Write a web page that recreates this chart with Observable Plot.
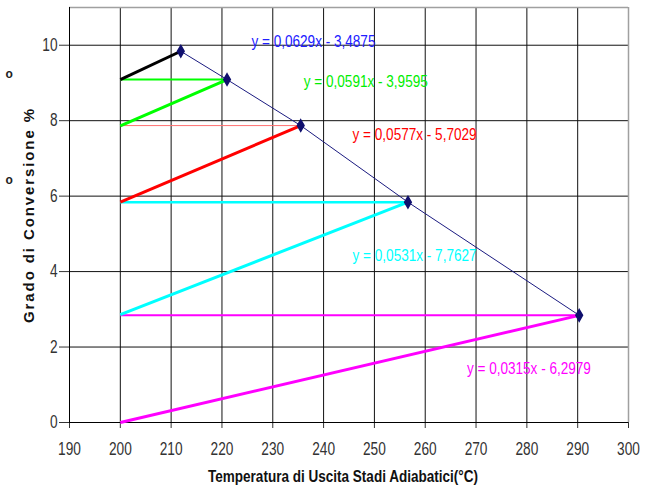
<!DOCTYPE html>
<html>
<head>
<meta charset="utf-8">
<script src="https://cdn.jsdelivr.net/npm/d3@7"></script>
<script src="https://cdn.jsdelivr.net/npm/@observablehq/plot@0.6"></script>
<style>
  html, body { margin: 0; padding: 0; background: #fff; }
  #chart svg { display: block; }
</style>
</head>
<body>
<div id="chart"></div>
<script>
// ---- data ----
const xTicks = [190, 200, 210, 220, 230, 240, 250, 260, 270, 280, 290, 300];
const yTicks = [0, 2, 4, 6, 8, 10];
const inletT = 200;                                   // inlet temperature of each adiabatic stage
const stageT = [211.9, 221.0, 235.5, 256.6, 290.3];   // outlet temperature (°C)
const stageEndX = [9.84, 9.09, 7.87, 5.84, 2.84];     // conversion at stage outlet (%)
const stageStartX = [9.09, 7.86, 5.84, 2.86, 0.0];    // conversion at stage inlet (%)
const hasCooling = [false, true, true, true, true];   // horizontal cooling segment drawn
const equations = [
  "y = 0,0629x - 3,4875",
  "y = 0,0591x - 3,9595",
  "y = 0,0577x - 5,7029",
  "y = 0,0531x - 7,7627",
  "y = 0,0315x - 6,2979"
];
const eqLabelT = [238.0, 248.3, 257.9, 257.9, 280.4];
const eqLabelX = [10.1, 9.03, 7.62, 4.43, 1.43];
const yTitle = "Grado di Conversione %";
const xTitle = "Temperatura di Uscita Stadi Adiabatici(°C)";

// ---- styles ----
const stageColors = ["#000000", "#00ff00", "#ff0000", "#00ffff", "#ff00ff"];
const coolColors  = [null, "#00ff00", "#ff7070", "#00ffff", "#ff00ff"];
const coolWidths  = [0, 2, 1, 2.5, 2];
const eqColors = ["#2020ff", "#00ee00", "#ff0000", "#00ffff", "#ff00ff"];
const sans = "'Liberation Sans', Arial, sans-serif";

const stages = stageT.map((t, i) => ({t, end: stageEndX[i], start: stageStartX[i], i}));
const gridStroke = "#111";

const marks = [
  Plot.gridX(xTicks.slice(1, -1), {stroke: gridStroke, strokeOpacity: 1, strokeWidth: 1}),
  Plot.gridY(yTicks.slice(1), {stroke: gridStroke, strokeOpacity: 1, strokeWidth: 1}),
  Plot.ruleX([300], {stroke: "#a0a0a0", strokeWidth: 1.5}),
  Plot.ruleY([11], {stroke: "#a0a0a0", strokeWidth: 1.5}),
  Plot.ruleX([190], {stroke: "#000", strokeWidth: 1}),
  Plot.ruleY([0], {stroke: "#000", strokeWidth: 1})
];

stages.forEach((s, i) => {
  if (hasCooling[i]) {
    marks.push(Plot.link([s], {x1: () => inletT, y1: "end", x2: "t", y2: "end",
      stroke: coolColors[i], strokeWidth: coolWidths[i]}));
  }
});
stages.forEach((s, i) => {
  marks.push(Plot.link([s], {x1: () => inletT, y1: "start", x2: "t", y2: "end",
    stroke: stageColors[i], strokeWidth: 3}));
});
marks.push(Plot.line(stages, {x: "t", y: "end", stroke: "#1a1a80", strokeWidth: 1}));
marks.push(Plot.dot(stages, {x: "t", y: "end", symbol: "diamond", r: 3.5, fill: "#10106e", stroke: "#10106e"}));

marks.push(Plot.text(equations, {
  x: (d, i) => eqLabelT[i], y: (d, i) => eqLabelX[i], text: d => d,
  fill: (d, i) => eqColors[i], fontSize: 17, fontFamily: sans, textAnchor: "middle"
}));

// axis titles
marks.push(Plot.text([yTitle], {
  frameAnchor: "left", textAnchor: "middle", dx: -40, dy: 0, rotate: -90, text: d => d,
  fontWeight: "bold", fontSize: 15, fontFamily: sans, fill: "#111"
}));
marks.push(Plot.text([xTitle], {
  frameAnchor: "bottom", textAnchor: "middle", dx: -6, dy: 59, text: d => d,
  fontWeight: "bold", fontSize: 17, fontFamily: sans, fill: "#111"
}));
// stray glyphs at the left edge
marks.push(Plot.text(["o"], {frameAnchor: "top-left", dx: -64, dy: 62, text: d => d,
  fontWeight: "bold", fontSize: 12, fontFamily: sans, fill: "#222"}));
marks.push(Plot.text(["o"], {frameAnchor: "top-left", dx: -64, dy: 168, text: d => d,
  fontWeight: "bold", fontSize: 12, fontFamily: sans, fill: "#222"}));

const chart = Plot.plot({
  width: 646,
  height: 494,
  marginLeft: 69,
  marginRight: 18,
  marginTop: 7,
  marginBottom: 72,
  style: {fontFamily: sans, fontSize: "18px", color: "#333", background: "#fff"},
  x: {domain: [190, 300], ticks: xTicks, tickSize: 6, tickPadding: 14, label: null, tickFormat: d => String(d)},
  y: {domain: [0, 11], ticks: yTicks, tickSize: 10, tickPadding: 2, label: null, tickFormat: d => String(d)},
  marks
});
document.getElementById("chart").append(chart);

// horizontally condense the texts, as in the reference
const targetWidths = new Map([[xTitle, 270]]);
equations.forEach(e => targetWidths.set(e, 124));
chart.querySelectorAll("text").forEach(t => {
  if (t.querySelector("tspan")) return;
  const s = t.textContent;
  const len = t.getComputedTextLength();
  if (!len) return;
  if (s === yTitle) {
    const spacing = (214 - len) / (s.length - 1);
    t.style.letterSpacing = spacing + "px";
    return;
  }
  let target;
  if (targetWidths.has(s)) target = targetWidths.get(s);
  else if (/^\d+$/.test(s)) target = len * 0.76;
  else return;
  t.setAttribute("textLength", target);
  t.setAttribute("lengthAdjust", "spacingAndGlyphs");
});
</script>
</body>
</html>
